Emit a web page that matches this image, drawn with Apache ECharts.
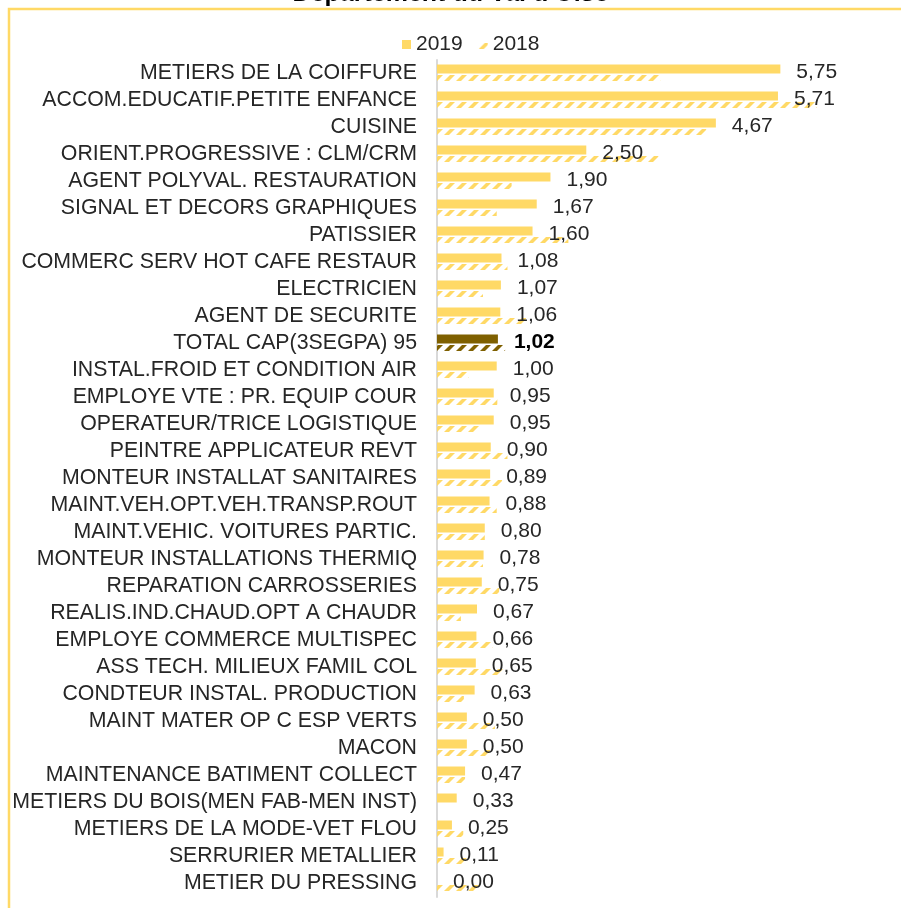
<!DOCTYPE html>
<html>
<head>
<meta charset="utf-8">
<script src="https://cdn.jsdelivr.net/npm/echarts@6/dist/echarts.min.js"></script>
<style>html,body{margin:0;padding:0;background:#fff}#c{width:901px;height:908px}</style>
</head>
<body>
<div id="c"></div>
<script>
const titleText = "Département du Val d'Oise";
const categories = [
"METIERS DE LA COIFFURE","ACCOM.EDUCATIF.PETITE ENFANCE","CUISINE","ORIENT.PROGRESSIVE : CLM/CRM",
"AGENT POLYVAL. RESTAURATION","SIGNAL ET DECORS GRAPHIQUES","PATISSIER","COMMERC SERV HOT CAFE RESTAUR",
"ELECTRICIEN","AGENT DE SECURITE","TOTAL CAP(3SEGPA) 95","INSTAL.FROID ET CONDITION AIR",
"EMPLOYE VTE : PR. EQUIP COUR","OPERATEUR/TRICE LOGISTIQUE","PEINTRE APPLICATEUR REVT","MONTEUR INSTALLAT SANITAIRES",
"MAINT.VEH.OPT.VEH.TRANSP.ROUT","MAINT.VEHIC. VOITURES PARTIC.","MONTEUR INSTALLATIONS THERMIQ","REPARATION CARROSSERIES",
"REALIS.IND.CHAUD.OPT A CHAUDR","EMPLOYE COMMERCE MULTISPEC","ASS TECH. MILIEUX FAMIL COL","CONDTEUR INSTAL. PRODUCTION",
"MAINT MATER OP C ESP VERTS","MACON","MAINTENANCE BATIMENT COLLECT","METIERS DU BOIS(MEN FAB-MEN INST)",
"METIERS DE LA MODE-VET FLOU","SERRURIER METALLIER","METIER DU PRESSING"];
const values2019 = [5.75,5.71,4.67,2.50,1.90,1.67,1.60,1.08,1.07,1.06,1.02,1.00,0.95,0.95,0.90,0.89,0.88,0.80,0.78,0.75,0.67,0.66,0.65,0.63,0.50,0.50,0.47,0.33,0.25,0.11,0.00];
const values2018 = [3.74,6.36,4.51,3.71,1.25,1.00,2.20,1.18,0.77,1.49,1.14,0.53,1.01,0.72,1.18,1.09,1.00,0.80,0.77,1.04,0.40,0.93,1.11,0.45,0.97,0.89,0.47,0.00,0.44,0.50,0.71];
const seriesNames = ["2019","2018"];
const totalName = "TOTAL CAP(3SEGPA) 95";

const YELLOW = '#FFD966', BROWN = '#7F6000', FONT = 'Liberation Sans, Arial, sans-serif';

function hatch(color){
  const c = document.createElement('canvas'); c.width = 12; c.height = 9;
  const g = c.getContext('2d');
  g.fillStyle = color;
  g.beginPath(); g.moveTo(0,9); g.lineTo(5,9); g.lineTo(11,3); g.lineTo(6,3); g.closePath(); g.fill();
  return {image: c, repeat: 'repeat'};
}
const fmt = v => v.toFixed(2).replace('.', ',');

const d2019 = values2019.map((v,i) => categories[i] === totalName
  ? {value: v, itemStyle: {color: BROWN}, label: {fontWeight: 'bold', color: '#000'}}
  : v);
const d2018 = values2018.map((v,i) => categories[i] === totalName
  ? {value: v, itemStyle: {color: hatch(BROWN)}}
  : v);

const chart = echarts.init(document.getElementById('c'), null, {renderer: 'canvas'});
chart.setOption({
  animation: false,
  title: {text: titleText, left: 'center', top: -23, textStyle: {fontFamily: FONT, fontSize: 25, fontWeight: 'bold', color: '#000'}},
  graphic: [{type: 'rect', left: 6.5, top: 6.5, z: 100, shape: {width: 1000, height: 1000}, style: {fill: 'none', stroke: YELLOW, lineWidth: 2.5}, silent: true}],
  legend: {data: seriesNames, left: 397, top: 29, itemWidth: 9, itemHeight: 9, itemGap: 16, icon: 'rect',
    textStyle: {fontFamily: FONT, fontSize: 21, color: '#262626'}},
  grid: {left: 437, top: 60, width: 418, height: 837, containLabel: false},
  xAxis: {type: 'value', min: 0, max: 7, show: false},
  yAxis: {type: 'category', data: categories, inverse: true,
    axisLine: {lineStyle: {color: '#D9D9D9', width: 2}},
    axisTick: {length: 5, lineStyle: {color: '#D9D9D9', width: 1.5}},
    axisLabel: {fontFamily: FONT, fontSize: 21.3, color: '#262626', margin: 20, interval: 0}},
  series: [
    {name: seriesNames[0], type: 'bar', data: d2019, barWidth: 9, barGap: '0%', itemStyle: {color: YELLOW},
     label: {show: true, position: 'right', distance: 16, formatter: p => fmt(p.value), fontFamily: FONT, fontSize: 21, color: '#262626', offset: [0, 3]}},
    {name: seriesNames[1], type: 'bar', data: d2018, barWidth: 9, itemStyle: {color: hatch(YELLOW)}}
  ]
});
</script>
</body>
</html>
